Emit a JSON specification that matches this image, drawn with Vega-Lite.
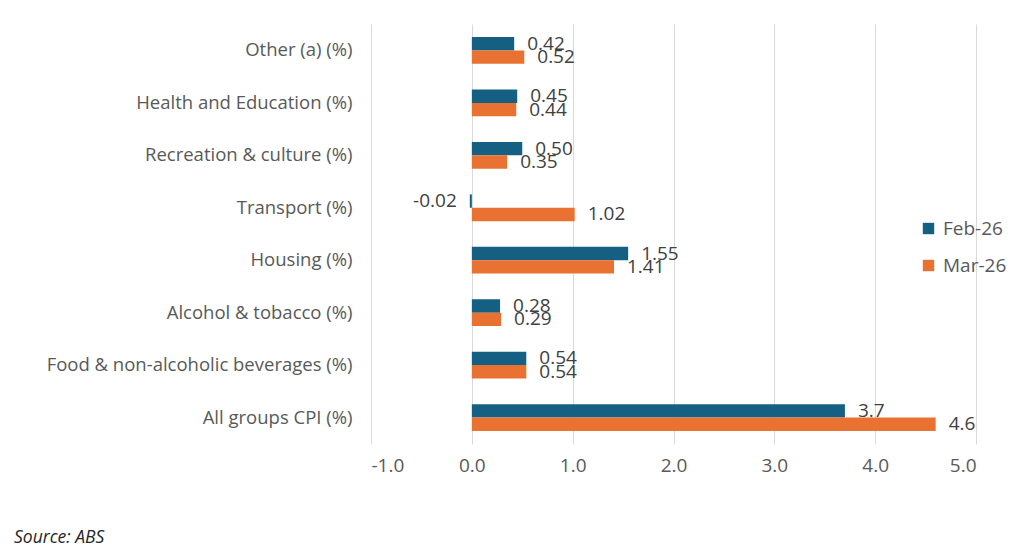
{
  "$schema": "https://vega.github.io/schema/vega-lite/v6.json",
  "width": 605,
  "height": 420,
  "autosize": {"type": "none"},
  "padding": {"left": 371, "top": 24, "right": 48, "bottom": 112},
  "background": "white",
  "config": {"view": {"stroke": null}, "font": "Open Sans"},
  "title": {
    "text": "Source: ABS",
    "orient": "bottom",
    "anchor": "start",
    "frame": "group",
    "dx": -357,
    "offset": 54,
    "fontSize": 17.5,
    "fontStyle": "italic",
    "fontWeight": "normal",
    "color": "#262626",
    "font": "Open Sans"
  },
  "data": {
    "values": [
      {"category": "Other (a) (%)", "series": "Feb-26", "value": 0.42, "label": "0.42"},
      {"category": "Other (a) (%)", "series": "Mar-26", "value": 0.52, "label": "0.52"},
      {"category": "Health and Education (%)", "series": "Feb-26", "value": 0.45, "label": "0.45"},
      {"category": "Health and Education (%)", "series": "Mar-26", "value": 0.44, "label": "0.44"},
      {"category": "Recreation & culture (%)", "series": "Feb-26", "value": 0.50, "label": "0.50"},
      {"category": "Recreation & culture (%)", "series": "Mar-26", "value": 0.35, "label": "0.35"},
      {"category": "Transport (%)", "series": "Feb-26", "value": -0.02, "label": "-0.02"},
      {"category": "Transport (%)", "series": "Mar-26", "value": 1.02, "label": "1.02"},
      {"category": "Housing (%)", "series": "Feb-26", "value": 1.55, "label": "1.55"},
      {"category": "Housing (%)", "series": "Mar-26", "value": 1.41, "label": "1.41"},
      {"category": "Alcohol & tobacco (%)", "series": "Feb-26", "value": 0.28, "label": "0.28"},
      {"category": "Alcohol & tobacco (%)", "series": "Mar-26", "value": 0.29, "label": "0.29"},
      {"category": "Food & non-alcoholic beverages (%)", "series": "Feb-26", "value": 0.54, "label": "0.54"},
      {"category": "Food & non-alcoholic beverages (%)", "series": "Mar-26", "value": 0.54, "label": "0.54"},
      {"category": "All groups CPI (%)", "series": "Feb-26", "value": 3.7, "label": "3.7"},
      {"category": "All groups CPI (%)", "series": "Mar-26", "value": 4.6, "label": "4.6"}
    ]
  },
  "encoding": {
    "y": {
      "field": "category",
      "type": "nominal",
      "sort": null,
      "scale": {"paddingInner": 0.49, "paddingOuter": 0.25},
      "axis": {
        "title": null,
        "ticks": false,
        "domain": false,
        "labelFontSize": 18.5,
        "labelColor": "#595959",
        "labelPadding": 19,
        "labelLimit": 400
      }
    },
    "yOffset": {"field": "series", "type": "nominal", "sort": ["Feb-26", "Mar-26"]},
    "x": {
      "field": "value",
      "type": "quantitative",
      "scale": {"domain": [-1, 5], "nice": false, "zero": false},
      "axis": {
        "title": null,
        "values": [-1, 0, 1, 2, 3, 4, 5],
        "format": ".1f",
        "labelExpr": "replace(datum.label, '\u2212', '-')",
        "domain": false,
        "ticks": false,
        "grid": true,
        "gridColor": "#d9d9d9",
        "gridWidth": 1,
        "labelFontSize": 19,
        "labelColor": "#595959",
        "labelPadding": 12
      }
    }
  },
  "layer": [
    {
      "mark": {"type": "bar"},
      "encoding": {
        "color": {
          "field": "series",
          "type": "nominal",
          "scale": {"domain": ["Feb-26", "Mar-26"], "range": ["#156082", "#E97132"]},
          "legend": {
            "title": null,
            "orient": "none",
            "legendX": 548,
            "legendY": 195,
            "symbolType": "square",
            "symbolSize": 130,
            "symbolStrokeWidth": 0,
            "labelFontSize": 19,
            "labelColor": "#595959",
            "rowPadding": 17,
            "labelOffset": 5
          }
        }
      }
    },
    {
      "transform": [{"filter": "datum.value >= 0"}],
      "mark": {"type": "text", "align": "left", "baseline": "middle", "dx": 13, "fontSize": 19, "color": "#404040"},
      "encoding": {"text": {"field": "label"}}
    },
    {
      "transform": [{"filter": "datum.value < 0"}],
      "mark": {"type": "text", "align": "right", "baseline": "middle", "dx": -13, "fontSize": 19, "color": "#404040"},
      "encoding": {"text": {"field": "label"}}
    }
  ]
}
